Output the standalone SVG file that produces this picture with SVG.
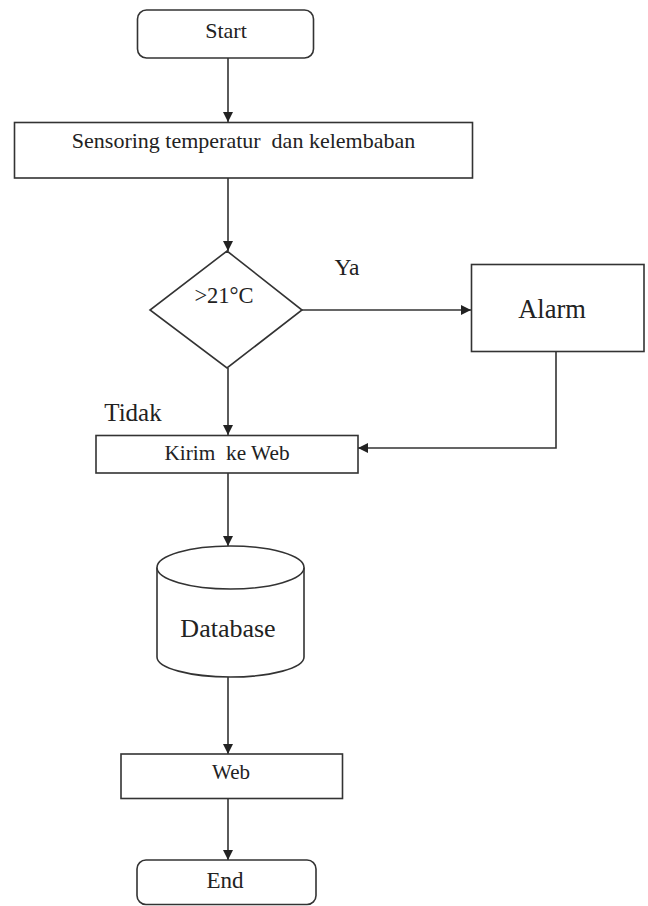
<svg xmlns="http://www.w3.org/2000/svg" width="648" height="906" viewBox="0 0 648 906">
<style>
.s{fill:#fff;stroke:#333;stroke-width:1.6}
.t{font-family:"Liberation Serif","Times New Roman",serif;fill:#222;text-anchor:middle}
.c{fill:none;stroke:#333;stroke-width:1.6}
</style>
<defs>
<marker id="ah" markerUnits="userSpaceOnUse" markerWidth="10" markerHeight="10" refX="10" refY="5" orient="auto">
<path d="M0,0 L10,5 L0,10 z" fill="#222"/>
</marker>
</defs>
<rect width="648" height="906" fill="#fff"/>
<g id="connectors">
<path class="c" d="M228 58 V122" marker-end="url(#ah)"/>
<path class="c" d="M228 178 V251" marker-end="url(#ah)"/>
<path class="c" d="M302 310 H471" marker-end="url(#ah)"/>
<path class="c" d="M228 368 V435" marker-end="url(#ah)"/>
<path class="c" d="M556 352 V448 H358" marker-end="url(#ah)"/>
<path class="c" d="M228 473 V546" marker-end="url(#ah)"/>
<path class="c" d="M228 677 V754" marker-end="url(#ah)"/>
<path class="c" d="M228 798 V860" marker-end="url(#ah)"/>
</g>
<g id="start">
<rect class="s" x="137.5" y="10" width="176" height="48" rx="9"/>
<text class="t" x="226" y="38" font-size="22">Start</text>
</g>
<g id="sensoring">
<rect class="s" x="14.5" y="122.5" width="458" height="55.5"/>
<text class="t" x="243.5" y="148" font-size="22" xml:space="preserve">Sensoring temperatur  dan kelembaban</text>
</g>
<g id="decision">
<polygon class="s" points="227,251 302,310 227,368 150,310"/>
<text class="t" x="224" y="303" font-size="22.5">&gt;21°C</text>
</g>
<g id="label-ya">
<text class="t" x="347" y="275" font-size="23.5">Ya</text>
</g>
<g id="alarm">
<rect class="s" x="471.5" y="264.5" width="172.5" height="87"/>
<text class="t" x="552" y="318" font-size="26.5">Alarm</text>
</g>
<g id="label-tidak">
<text class="t" x="133" y="421" font-size="25">Tidak</text>
</g>
<g id="kirim">
<rect class="s" x="96" y="435.5" width="262" height="37.5"/>
<text class="t" x="227" y="460" font-size="21.3" xml:space="preserve">Kirim  ke Web</text>
</g>
<g id="database">
<path class="s" d="M157 567.5 V657 A73.5 20 0 0 0 304 657 V567.5"/>
<ellipse class="s" cx="230.5" cy="567.5" rx="73.5" ry="21.5"/>
<text class="t" x="228" y="637" font-size="26">Database</text>
</g>
<g id="web">
<rect class="s" x="121" y="754" width="221.5" height="44.5"/>
<text class="t" x="231" y="779" font-size="21">Web</text>
</g>
<g id="end">
<rect class="s" x="137" y="860" width="179" height="44.5" rx="9"/>
<text class="t" x="225" y="888" font-size="23">End</text>
</g>
</svg>
